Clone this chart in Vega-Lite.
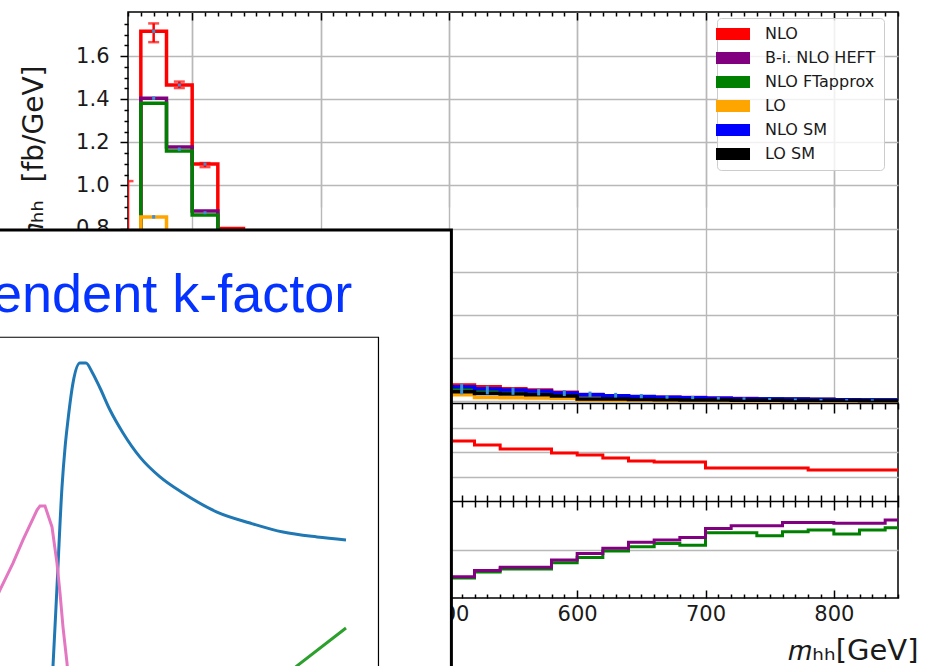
{
  "$schema": "https://vega.github.io/schema/vega-lite/v6.json",
  "autosize": "none",
  "width": 770,
  "height": 586,
  "padding": {"left": 128, "top": 12, "right": 32, "bottom": 68},
  "background": "white",
  "config": {
    "view": {"stroke": "#000000", "strokeWidth": 1.5},
    "font": "DejaVu Sans",
    "axis": {"tickColor": "#000000", "tickWidth": 1.5, "gridColor": "#b8b8b8", "gridWidth": 1.4, "domainColor": "#000000", "domainWidth": 1.5, "labelColor": "#1a1a1a", "titleColor": "#1a1a1a", "titleFontWeight": "normal", "labelFontSize": 21, "titleFontSize": 28, "labelFont": "DejaVu Sans", "titleFont": "DejaVu Sans"}
  },
  "datasets": {
    "hist": [
      {"m": 240, "NLO": 0, "HEFT": 0, "FT": 0, "LO": 0, "NLOSM": 0, "LOSM": 0},
      {"m": 260, "NLO": 1.716, "HEFT": 1.405, "FT": 1.382, "LO": 0.853, "NLOSM": 0.035, "LOSM": 0.018},
      {"m": 280, "NLO": 1.466, "HEFT": 1.178, "FT": 1.16, "LO": 0.7, "NLOSM": 0.05, "LOSM": 0.026},
      {"m": 300, "NLO": 1.099, "HEFT": 0.881, "FT": 0.863, "LO": 0.53, "NLOSM": 0.07, "LOSM": 0.036},
      {"m": 320, "NLO": 0.8, "HEFT": 0.64, "FT": 0.628, "LO": 0.4, "NLOSM": 0.09, "LOSM": 0.046},
      {"m": 340, "NLO": 0.58, "HEFT": 0.46, "FT": 0.452, "LO": 0.3, "NLOSM": 0.105, "LOSM": 0.054},
      {"m": 360, "NLO": 0.42, "HEFT": 0.335, "FT": 0.328, "LO": 0.22, "NLOSM": 0.112, "LOSM": 0.058},
      {"m": 380, "NLO": 0.31, "HEFT": 0.245, "FT": 0.24, "LO": 0.16, "NLOSM": 0.112, "LOSM": 0.06},
      {"m": 400, "NLO": 0.23, "HEFT": 0.18, "FT": 0.176, "LO": 0.118, "NLOSM": 0.106, "LOSM": 0.058},
      {"m": 420, "NLO": 0.175, "HEFT": 0.136, "FT": 0.132, "LO": 0.088, "NLOSM": 0.097, "LOSM": 0.055},
      {"m": 440, "NLO": 0.135, "HEFT": 0.103, "FT": 0.1, "LO": 0.066, "NLOSM": 0.088, "LOSM": 0.051},
      {"m": 460, "NLO": 0.106, "HEFT": 0.08, "FT": 0.078, "LO": 0.05, "NLOSM": 0.08, "LOSM": 0.047},
      {"m": 480, "NLO": 0.086, "HEFT": 0.064, "FT": 0.062, "LO": 0.038, "NLOSM": 0.072, "LOSM": 0.044},
      {"m": 500, "NLO": 0.074, "HEFT": 0.055, "FT": 0.053, "LO": 0.028, "NLOSM": 0.065, "LOSM": 0.042},
      {"m": 520, "NLO": 0.066, "HEFT": 0.05, "FT": 0.048, "LO": 0.016, "NLOSM": 0.056, "LOSM": 0.034},
      {"m": 540, "NLO": 0.056, "HEFT": 0.045, "FT": 0.043, "LO": 0.014, "NLOSM": 0.05, "LOSM": 0.032},
      {"m": 560, "NLO": 0.05, "HEFT": 0.04, "FT": 0.038, "LO": 0.013, "NLOSM": 0.046, "LOSM": 0.028},
      {"m": 580, "NLO": 0.04, "HEFT": 0.035, "FT": 0.033, "LO": 0.012, "NLOSM": 0.037, "LOSM": 0.023},
      {"m": 600, "NLO": 0.028, "HEFT": 0.03, "FT": 0.028, "LO": 0.004, "NLOSM": 0.028, "LOSM": 0.009},
      {"m": 620, "NLO": 0.024, "HEFT": 0.02, "FT": 0.019, "LO": 0.003, "NLOSM": 0.024, "LOSM": 0.008},
      {"m": 640, "NLO": 0.019, "HEFT": 0.016, "FT": 0.015, "LO": 0.003, "NLOSM": 0.02, "LOSM": 0.006},
      {"m": 660, "NLO": 0.017, "HEFT": 0.014, "FT": 0.013, "LO": 0.002, "NLOSM": 0.017, "LOSM": 0.005},
      {"m": 680, "NLO": 0.015, "HEFT": 0.012, "FT": 0.011, "LO": 0.002, "NLOSM": 0.014, "LOSM": 0.004},
      {"m": 700, "NLO": 0.012, "HEFT": 0.011, "FT": 0.01, "LO": 0.002, "NLOSM": 0.012, "LOSM": 0.004},
      {"m": 720, "NLO": 0.011, "HEFT": 0.01, "FT": 0.009, "LO": 0.001, "NLOSM": 0.01, "LOSM": 0.003},
      {"m": 740, "NLO": 0.009, "HEFT": 0.008, "FT": 0.008, "LO": 0.001, "NLOSM": 0.008, "LOSM": 0.003},
      {"m": 760, "NLO": 0.008, "HEFT": 0.007, "FT": 0.007, "LO": 0.001, "NLOSM": 0.007, "LOSM": 0.002},
      {"m": 780, "NLO": 0.006, "HEFT": 0.006, "FT": 0.006, "LO": 0.001, "NLOSM": 0.006, "LOSM": 0.002},
      {"m": 800, "NLO": 0.005, "HEFT": 0.005, "FT": 0.005, "LO": 0.001, "NLOSM": 0.005, "LOSM": 0.002},
      {"m": 820, "NLO": 0.004, "HEFT": 0.004, "FT": 0.004, "LO": 0.001, "NLOSM": 0.004, "LOSM": 0.001},
      {"m": 840, "NLO": 0.004, "HEFT": 0.004, "FT": 0.004, "LO": 0.001, "NLOSM": 0.004, "LOSM": 0.001},
      {"m": 860, "NLO": 0.004, "HEFT": 0.004, "FT": 0.004, "LO": 0.001, "NLOSM": 0.004, "LOSM": 0.001}
    ],
    "ratio": [
      {"m": 260, "NLO": 2.04, "HEFT": 0.819, "FT": 0.806},
      {"m": 280, "NLO": 2.08, "HEFT": 0.803, "FT": 0.791},
      {"m": 300, "NLO": 2.06, "HEFT": 0.802, "FT": 0.785},
      {"m": 320, "NLO": 2.1, "HEFT": 0.78, "FT": 0.77},
      {"m": 340, "NLO": 2.12, "HEFT": 0.765, "FT": 0.755},
      {"m": 360, "NLO": 2.14, "HEFT": 0.752, "FT": 0.742},
      {"m": 380, "NLO": 2.16, "HEFT": 0.742, "FT": 0.733},
      {"m": 400, "NLO": 2.18, "HEFT": 0.732, "FT": 0.724},
      {"m": 420, "NLO": 2.2, "HEFT": 0.722, "FT": 0.714},
      {"m": 440, "NLO": 2.21, "HEFT": 0.712, "FT": 0.705},
      {"m": 460, "NLO": 2.22, "HEFT": 0.702, "FT": 0.696},
      {"m": 480, "NLO": 2.23, "HEFT": 0.694, "FT": 0.688},
      {"m": 500, "NLO": 2.224, "HEFT": 0.688, "FT": 0.682},
      {"m": 520, "NLO": 2.143, "HEFT": 0.713, "FT": 0.707},
      {"m": 540, "NLO": 2.061, "HEFT": 0.727, "FT": 0.72},
      {"m": 560, "NLO": 2.061, "HEFT": 0.727, "FT": 0.72},
      {"m": 580, "NLO": 1.98, "HEFT": 0.757, "FT": 0.745},
      {"m": 600, "NLO": 1.939, "HEFT": 0.784, "FT": 0.767},
      {"m": 620, "NLO": 1.878, "HEFT": 0.805, "FT": 0.794},
      {"m": 640, "NLO": 1.816, "HEFT": 0.83, "FT": 0.811},
      {"m": 660, "NLO": 1.796, "HEFT": 0.839, "FT": 0.825},
      {"m": 680, "NLO": 1.796, "HEFT": 0.85, "FT": 0.818},
      {"m": 700, "NLO": 1.673, "HEFT": 0.887, "FT": 0.869},
      {"m": 720, "NLO": 1.673, "HEFT": 0.898, "FT": 0.869},
      {"m": 740, "NLO": 1.673, "HEFT": 0.898, "FT": 0.857},
      {"m": 760, "NLO": 1.673, "HEFT": 0.911, "FT": 0.873},
      {"m": 780, "NLO": 1.633, "HEFT": 0.911, "FT": 0.88},
      {"m": 800, "NLO": 1.633, "HEFT": 0.908, "FT": 0.864},
      {"m": 820, "NLO": 1.633, "HEFT": 0.908, "FT": 0.88},
      {"m": 840, "NLO": 1.633, "HEFT": 0.922, "FT": 0.89},
      {"m": 860, "NLO": 1.633, "HEFT": 0.922, "FT": 0.89}
    ],
    "err": [
      {"m": 250, "lo": 0.75, "hi": 1.02},
      {"m": 270, "lo": 1.665, "hi": 1.752},
      {"m": 290, "lo": 1.452, "hi": 1.482},
      {"m": 310, "lo": 1.085, "hi": 1.104}
    ],
    "mk": [
      {"m": 270, "lo": 1.708, "hi": 1.724},
      {"m": 270, "lo": 1.397, "hi": 1.413},
      {"m": 270, "lo": 0.846, "hi": 0.862},
      {"m": 290, "lo": 1.459, "hi": 1.473},
      {"m": 290, "lo": 1.16, "hi": 1.176},
      {"m": 310, "lo": 1.092, "hi": 1.106},
      {"m": 310, "lo": 0.866, "hi": 0.88},
      {"m": 510, "lo": 0.03, "hi": 0.08},
      {"m": 530, "lo": 0.03, "hi": 0.07},
      {"m": 550, "lo": 0.028, "hi": 0.062},
      {"m": 570, "lo": 0.025, "hi": 0.056},
      {"m": 590, "lo": 0.022, "hi": 0.05},
      {"m": 610, "lo": 0.018, "hi": 0.043},
      {"m": 630, "lo": 0.015, "hi": 0.037},
      {"m": 650, "lo": 0.012, "hi": 0.032},
      {"m": 670, "lo": 0.01, "hi": 0.027},
      {"m": 690, "lo": 0.008, "hi": 0.023},
      {"m": 710, "lo": 0.006, "hi": 0.019},
      {"m": 730, "lo": 0.005, "hi": 0.016},
      {"m": 750, "lo": 0.004, "hi": 0.013},
      {"m": 770, "lo": 0.003, "hi": 0.011},
      {"m": 790, "lo": 0.002, "hi": 0.009},
      {"m": 810, "lo": 0.002, "hi": 0.008},
      {"m": 830, "lo": 0.001, "hi": 0.007}
    ],
    "kBlue": [
      {"m": 280, "k": 0.38}, {"m": 284.4, "k": 0.521}, {"m": 293.2, "k": 0.845}, {"m": 304.3, "k": 1.255},
      {"m": 311.1, "k": 1.418}, {"m": 317.5, "k": 1.529}, {"m": 328.6, "k": 1.681}, {"m": 344, "k": 1.762},
      {"m": 357.3, "k": 1.762}, {"m": 370.5, "k": 1.726}, {"m": 388.2, "k": 1.66}, {"m": 410.3, "k": 1.57},
      {"m": 439, "k": 1.476}, {"m": 476.5, "k": 1.377}, {"m": 520.7, "k": 1.296}, {"m": 571.4, "k": 1.23},
      {"m": 646.5, "k": 1.152}, {"m": 719.4, "k": 1.107}, {"m": 792.2, "k": 1.07}, {"m": 867.3, "k": 1.05},
      {"m": 931.3, "k": 1.038}
    ],
    "kPink": [
      {"m": 145, "k": 0.743}, {"m": 167.4, "k": 0.833}, {"m": 196.1, "k": 0.943}, {"m": 218.2, "k": 1.038},
      {"m": 249.1, "k": 1.16}, {"m": 255.7, "k": 1.177}, {"m": 266.7, "k": 1.177}, {"m": 282.2, "k": 1.091},
      {"m": 293.2, "k": 0.943}, {"m": 299.9, "k": 0.82}, {"m": 306.5, "k": 0.681}, {"m": 315.3, "k": 0.534},
      {"m": 322, "k": 0.382}
    ],
    "kGreen": [
      {"m": 763.5, "k": 0.423}, {"m": 823.1, "k": 0.522}, {"m": 931.3, "k": 0.677}
    ]
  },
  "layer": [
    {
      "layer": [
        {
          "data": {"name": "hist"},
          "transform": [{"fold": ["NLO", "HEFT", "FT", "LO", "NLOSM", "LOSM"], "as": ["series", "v"]}],
          "mark": {"type": "line", "interpolate": "step-after", "strokeWidth": 3.5, "clip": true},
          "encoding": {
            "x": {"field": "m", "type": "quantitative", "scale": {"domain": [250, 850], "nice": false, "zero": false},
              "axis": {"orient": "top", "values": [250,260,270,280,290,300,310,320,330,340,350,360,370,380,390,400,410,420,430,440,450,460,470,480,490,500,510,520,530,540,550,560,570,580,590,600,610,620,630,640,650,660,670,680,690,700,710,720,730,740,750,760,770,780,790,800,810,820,830,840,850],
                "tickSize": {"condition": {"test": "datum.value % 100 === 0", "value": -8}, "value": -4},
                "labels": false, "domain": false, "grid": true,
                "gridOpacity": {"condition": {"test": "datum.value % 100 === 0", "value": 1}, "value": 0},
                "title": null}},
            "y": {"field": "v", "type": "quantitative", "scale": {"domain": [-0.01, 1.805], "range": [391, 0], "nice": false, "zero": false},
              "axis": {"orient": "left", "values": [0,0.05,0.1,0.15,0.2,0.25,0.3,0.35,0.4,0.45,0.5,0.55,0.6,0.65,0.7,0.75,0.8,0.85,0.9,0.95,1,1.05,1.1,1.15,1.2,1.25,1.3,1.35,1.4,1.45,1.5,1.55,1.6,1.65,1.7,1.75],
                "tickSize": {"condition": {"test": "abs(datum.value*5-round(datum.value*5))<0.001", "value": 8}, "value": 4},
                "labelExpr": "abs(datum.value*5-round(datum.value*5))<0.001 ? format(datum.value,'.1f') : ''",
                "labelFontSize": 21, "labelPadding": 11, "labelOverlap": false, "labelFlush": false,
                "domain": false, "grid": true,
                "gridOpacity": {"condition": {"test": "abs(datum.value*5-round(datum.value*5))<0.001", "value": 1}, "value": 0},
                "title": "d𝜎/d𝑚ₕₕ\u00a0\u00a0[fb/GeV]", "titleFontSize": 28, "titleX": -86, "titleY": 53, "titleAlign": "right", "titleAngle": 270, "titleBaseline": "alphabetic"}},
            "color": {"field": "series", "type": "nominal",
              "scale": {"domain": ["NLO", "HEFT", "FT", "LO", "NLOSM", "LOSM"], "range": ["#ff0000", "#800080", "#008000", "#ffa500", "#0000ff", "#000000"]},
              "legend": {"title": null, "orient": "none", "legendX": 589, "legendY": 6,
                "symbolType": "M-2.43,-0.857H2.43V0.857H-2.43Z", "symbolSize": 196, "symbolStrokeWidth": 0,
                "labelFont": "DejaVu Sans", "labelFontSize": 16, "labelColor": "#1a1a1a", "labelOffset": 24, "rowPadding": 8,
                "padding": 8, "fillColor": "rgba(255,255,255,0.8)", "strokeColor": "#cccccc", "cornerRadius": 4,
                "labelExpr": "datum.label == 'HEFT' ? 'B-i. NLO HEFT' : datum.label == 'FT' ? 'NLO FTapprox' : datum.label == 'NLOSM' ? 'NLO SM' : datum.label == 'LOSM' ? 'LO SM' : datum.label",
                "encode": {"symbols": {"update": {"fill": {"scale": "color", "field": "value"}, "fillOpacity": {"value": 1}}}}}}
          }
        },
        {
          "data": {"name": "err"},
          "mark": {"type": "rule", "color": "#ff0000", "strokeWidth": 2.5, "clip": true},
          "encoding": {
            "x": {"field": "m", "type": "quantitative", "scale": {"domain": [250, 850], "nice": false, "zero": false},
              "axis": {"orient": "bottom", "offset": -195, "values": [250,260,270,280,290,300,310,320,330,340,350,360,370,380,390,400,410,420,430,440,450,460,470,480,490,500,510,520,530,540,550,560,570,580,590,600,610,620,630,640,650,660,670,680,690,700,710,720,730,740,750,760,770,780,790,800,810,820,830,840,850],
                "tickSize": {"condition": {"test": "datum.value % 100 === 0", "value": 10}, "value": 6},
                "labels": false, "domain": true, "grid": false, "title": null}},
            "y": {"field": "lo", "type": "quantitative", "scale": {"domain": [-0.01, 1.805], "range": [391, 0], "nice": false, "zero": false}, "axis": null},
            "y2": {"field": "hi"}
          }
        },
        {
          "data": {"name": "err"},
          "transform": [{"fold": ["lo", "hi"], "as": ["end", "yv"]}],
          "mark": {"type": "tick", "orient": "horizontal", "color": "#ff0000", "size": 11, "thickness": 2.5, "clip": true},
          "encoding": {
            "x": {"field": "m", "type": "quantitative", "scale": {"domain": [250, 850], "nice": false, "zero": false}, "axis": null},
            "y": {"field": "yv", "type": "quantitative", "scale": {"domain": [-0.01, 1.805], "range": [391, 0], "nice": false, "zero": false}, "axis": null}
          }
        },
        {
          "data": {"name": "mk"},
          "mark": {"type": "rule", "color": "#3a8fd6", "strokeWidth": 3, "clip": true},
          "encoding": {
            "x": {"field": "m", "type": "quantitative", "scale": {"domain": [250, 850], "nice": false, "zero": false},
              "axis": {"orient": "bottom", "offset": -103, "values": [250,260,270,280,290,300,310,320,330,340,350,360,370,380,390,400,410,420,430,440,450,460,470,480,490,500,510,520,530,540,550,560,570,580,590,600,610,620,630,640,650,660,670,680,690,700,710,720,730,740,750,760,770,780,790,800,810,820,830,840,850],
                "tickSize": {"condition": {"test": "datum.value % 100 === 0", "value": 15}, "value": 12},
                "labels": false, "domain": false, "grid": false, "title": null}},
            "y": {"field": "lo", "type": "quantitative", "scale": {"domain": [-0.01, 1.805], "range": [391, 0], "nice": false, "zero": false}, "axis": null},
            "y2": {"field": "hi"}
          }
        }
      ],
      "resolve": {"axis": {"x": "independent", "y": "independent"}}
    },
    {
      "data": {"name": "ratio"},
      "mark": {"type": "line", "interpolate": "step-after", "color": "#ff0000", "strokeWidth": 3, "clip": true},
      "encoding": {
        "x": {"field": "m", "type": "quantitative", "scale": {"domain": [250, 850], "nice": false, "zero": false},
          "axis": {"orient": "bottom", "offset": -97, "values": [300, 400, 500, 600, 700, 800], "ticks": false, "labels": false, "domain": true, "grid": true, "title": null}},
        "y": {"field": "NLO", "type": "quantitative", "scale": {"domain": [1, 3], "range": [489, 391], "nice": false, "zero": false},
          "axis": {"orient": "left", "values": [1.5, 2, 2.5], "ticks": false, "labels": false, "domain": false, "grid": true, "title": null}}
      }
    },
    {
      "data": {"name": "ratio"},
      "transform": [{"fold": ["FT", "HEFT"], "as": ["series", "v"]}],
      "mark": {"type": "line", "interpolate": "step-after", "strokeWidth": 3, "clip": true},
      "encoding": {
        "x": {"field": "m", "type": "quantitative", "scale": {"domain": [250, 850], "nice": false, "zero": false},
          "axis": {"orient": "bottom", "values": [250,260,270,280,290,300,310,320,330,340,350,360,370,380,390,400,410,420,430,440,450,460,470,480,490,500,510,520,530,540,550,560,570,580,590,600,610,620,630,640,650,660,670,680,690,700,710,720,730,740,750,760,770,780,790,800,810,820,830,840,850],
            "tickSize": {"condition": {"test": "datum.value % 100 === 0", "value": -8}, "value": -4},
            "labelExpr": "datum.value % 100 === 0 ? datum.label : ''", "labelOverlap": false, "labelFlush": false, "labelPadding": 13, "labelFontSize": 21,
            "domain": false, "grid": true,
            "gridOpacity": {"condition": {"test": "datum.value % 100 === 0", "value": 1}, "value": 0},
            "title": "𝑚ₕₕ[GeV]", "titleFontSize": 29, "titleX": 790, "titleY": 61, "titleAlign": "right", "titleBaseline": "alphabetic"}},
        "y": {"field": "v", "type": "quantitative", "scale": {"domain": [0.6, 1.0], "range": [586, 489], "nice": false, "zero": false},
          "axis": {"orient": "left", "values": [0.8], "ticks": false, "labels": false, "domain": false, "grid": true, "title": null}},
        "color": {"field": "series", "type": "nominal", "legend": null}
      }
    },
    {
      "layer": [
        {
          "data": {"values": [{}]},
          "mark": {"type": "rect", "fill": "#ffffff", "stroke": "#000000", "strokeWidth": 3},
          "encoding": {
            "x": {"datum": 100, "type": "quantitative", "scale": {"domain": [450, 2150], "nice": false, "zero": false}, "axis": null},
            "x2": {"datum": 1164},
            "y": {"datum": 0.3, "type": "quantitative", "scale": {"domain": [0.8, 3.2], "nice": false, "zero": false}, "axis": null},
            "y2": {"datum": 2.307}
          }
        },
        {
          "data": {"values": [{}]},
          "mark": {"type": "rect", "filled": false, "stroke": "#000000", "strokeWidth": 1.2},
          "encoding": {
            "x": {"datum": 120, "type": "quantitative", "scale": {"domain": [450, 2150], "nice": false, "zero": false}, "axis": null},
            "x2": {"datum": 1003},
            "y": {"datum": 0.3, "type": "quantitative", "scale": {"domain": [0.8, 3.2], "nice": false, "zero": false}, "axis": null},
            "y2": {"datum": 1.868}
          }
        },
        {
          "data": {"name": "kBlue"},
          "mark": {"type": "line", "color": "#1f77b4", "strokeWidth": 3, "interpolate": "monotone"},
          "encoding": {
            "x": {"field": "m", "type": "quantitative", "scale": {"domain": [450, 2150], "nice": false, "zero": false}, "axis": null},
            "y": {"field": "k", "type": "quantitative", "scale": {"domain": [0.8, 3.2], "nice": false, "zero": false}, "axis": null}
          }
        },
        {
          "data": {"name": "kPink"},
          "mark": {"type": "line", "color": "#e377c2", "strokeWidth": 3},
          "encoding": {
            "x": {"field": "m", "type": "quantitative", "scale": {"domain": [450, 2150], "nice": false, "zero": false}, "axis": null},
            "y": {"field": "k", "type": "quantitative", "scale": {"domain": [0.8, 3.2], "nice": false, "zero": false}, "axis": null}
          }
        },
        {
          "data": {"name": "kGreen"},
          "mark": {"type": "line", "color": "#2ca02c", "strokeWidth": 3},
          "encoding": {
            "x": {"field": "m", "type": "quantitative", "scale": {"domain": [450, 2150], "nice": false, "zero": false}, "axis": null},
            "y": {"field": "k", "type": "quantitative", "scale": {"domain": [0.8, 3.2], "nice": false, "zero": false}, "axis": null}
          }
        },
        {
          "data": {"values": [{}]},
          "mark": {"type": "text", "align": "right", "baseline": "alphabetic", "font": "Liberation Sans", "fontSize": 54, "color": "#0433ff"},
          "encoding": {
            "x": {"datum": 945, "type": "quantitative", "scale": {"domain": [450, 2150], "nice": false, "zero": false}, "axis": null},
            "y": {"datum": 1.973, "type": "quantitative", "scale": {"domain": [0.8, 3.2], "nice": false, "zero": false}, "axis": null},
            "text": {"value": "mhh-dependent k-factor"}
          }
        }
      ]
    }
  ],
  "resolve": {"scale": {"x": "independent", "y": "independent"}, "axis": {"x": "independent", "y": "independent"}}
}
